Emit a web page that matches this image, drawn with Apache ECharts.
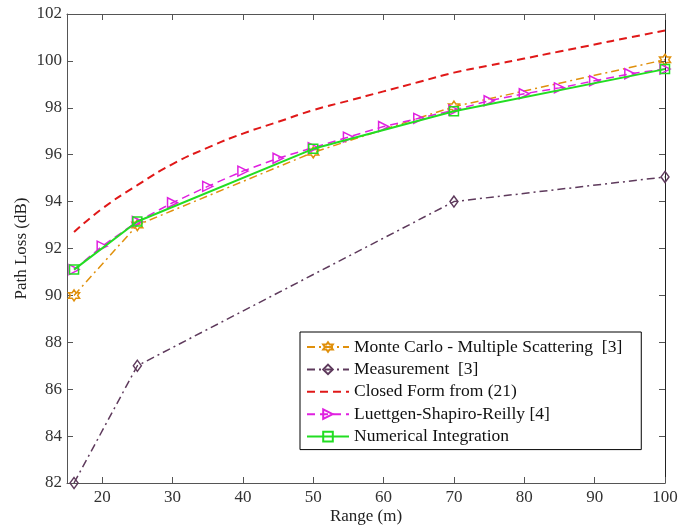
<!DOCTYPE html>
<html>
<head>
<meta charset="utf-8">
<style>
  html, body { margin: 0; padding: 0; background: #fff; }
  #main { width: 680px; height: 527px; }
</style>
<script src="https://cdn.jsdelivr.net/npm/echarts@6/dist/echarts.min.js"></script>
</head>
<body>
<div id="main"></div>
<script>
// data
var xTicks = [20, 30, 40, 50, 60, 70, 80, 90, 100];

var mcRange = [16, 25, 50, 70, 100];
var mcLoss  = [90.0, 93.0, 96.1, 98.05, 100.05];

var measRange = [16, 25, 70, 100];
var measLoss  = [82.0, 87.0, 94.0, 95.05];

var cfRange = [16, 20, 25, 30, 35, 40, 45, 50, 55, 60, 65, 70, 75, 80, 85, 90, 95, 100];
var cfLoss  = [92.7, 93.7, 94.7, 95.6, 96.3, 96.9, 97.4, 97.9, 98.3, 98.7, 99.1, 99.5, 99.8, 100.1, 100.4, 100.7, 101.0, 101.3];

var lsrRange = [16, 20, 25, 30, 35, 40, 45, 50, 55, 60, 65, 70, 75, 80, 85, 90, 95, 100];
var lsrLoss  = [91.1, 92.1, 93.15, 93.95, 94.65, 95.3, 95.85, 96.3, 96.75, 97.2, 97.55, 97.9, 98.3, 98.6, 98.85, 99.15, 99.45, 99.65];

var niRange = [16, 25, 50, 70, 100];
var niLoss  = [91.1, 93.15, 96.25, 97.85, 99.65];

function pairs(xs, ys) {
    return xs.map(function (x, i) { return [x, ys[i]]; });
}

var hexagram = 'path://M0,-100L28.9,-50L86.6,-50L57.7,0L86.6,50L28.9,50L0,100L-28.9,50L-86.6,50L-57.7,0L-86.6,-50L-28.9,-50Z';
var font = '"Liberation Serif", "Times New Roman", serif';

var myChart = echarts.init(document.getElementById('main'));

function markerStyle(c) {
    return { color: 'rgba(255,255,255,0)', borderColor: c, borderWidth: 1.5 };
}

var option = {
    animation: false,
    backgroundColor: '#fff',
    textStyle: { fontFamily: font },
    grid: { left: 67, right: 15, top: 14, bottom: 44, outerBoundsMode: 'none', containLabel: false },
    legend: {
        orient: 'vertical',
        left: 300,
        top: 332,
        backgroundColor: '#fff',
        borderColor: '#000',
        borderWidth: 1,
        padding: [6, 19, 4, 6],
        itemWidth: 42,
        itemHeight: 12,
        itemGap: 4.4,
        textStyle: { fontFamily: font, fontSize: 17.5, color: '#111', lineHeight: 17 },
        data: [
            'Monte Carlo - Multiple Scattering  [3]',
            'Measurement  [3]',
            { name: 'Closed Form from (21)', itemStyle: { opacity: 0 } },
            'Luettgen-Shapiro-Reilly [4]',
            'Numerical Integration'
        ]
    },
    xAxis: [
        {
            type: 'value', min: 15, max: 100,
            name: 'Range (m)', nameLocation: 'middle', nameGap: 25, nameMoveOverlap: false,
            nameTextStyle: { fontFamily: font, fontSize: 17, color: '#222', verticalAlign: 'top' },
            axisLine: { lineStyle: { color: '#555', width: 1 } },
            axisTick: { inside: true, length: 6, customValues: xTicks, lineStyle: { color: '#555' } },
            axisLabel: { customValues: xTicks, fontFamily: font, fontSize: 17, color: '#333', margin: 6 },
            splitLine: { show: false }
        },
        {
            type: 'value', min: 15, max: 100, position: 'top',
            axisLine: { onZero: false, lineStyle: { color: '#555', width: 1 } },
            axisTick: { inside: true, length: 6, customValues: xTicks, lineStyle: { color: '#555' } },
            axisLabel: { show: false },
            splitLine: { show: false }
        }
    ],
    yAxis: [
        {
            type: 'value', min: 82, max: 102, interval: 2,
            name: 'Path Loss (dB)', nameLocation: 'middle', nameGap: 37, nameMoveOverlap: false,
            nameTextStyle: { fontFamily: font, fontSize: 17, color: '#222' },
            axisLine: { show: true, lineStyle: { color: '#555', width: 1 } },
            axisTick: { show: true, inside: true, length: 6, lineStyle: { color: '#555' } },
            axisLabel: { fontFamily: font, fontSize: 17, color: '#333', margin: 5 },
            splitLine: { show: false }
        },
        {
            type: 'value', min: 82, max: 102, interval: 2, position: 'right',
            axisLine: { show: true, onZero: false, lineStyle: { color: '#222', width: 1 } },
            axisTick: { show: true, inside: true, length: 6, lineStyle: { color: '#555' } },
            axisLabel: { show: false },
            splitLine: { show: false }
        }
    ],
    series: [
        {
            name: 'Monte Carlo - Multiple Scattering  [3]',
            type: 'line',
            data: pairs(mcRange, mcLoss),
            symbol: hexagram, symbolSize: 11,
            itemStyle: markerStyle('#e0900c'),
            lineStyle: { color: '#e0900c', width: 1.5, type: [8, 4, 2, 4] },
            z: 2
        },
        {
            name: 'Measurement  [3]',
            type: 'line',
            data: pairs(measRange, measLoss),
            symbol: 'diamond', symbolSize: [8, 11],
            itemStyle: markerStyle('#5e3a5c'),
            lineStyle: { color: '#5e3a5c', width: 1.5, type: [8, 4, 2, 4] },
            z: 2
        },
        {
            name: 'Closed Form from (21)',
            type: 'line',
            data: pairs(cfRange, cfLoss),
            smooth: true,
            symbol: 'none',
            itemStyle: { color: '#e01818' },
            lineStyle: { color: '#e01818', width: 2, type: [8, 5] },
            z: 3
        },
        {
            name: 'Luettgen-Shapiro-Reilly [4]',
            type: 'line',
            data: pairs(lsrRange, lsrLoss),
            symbol: 'triangle', symbolSize: 10, symbolRotate: -90,
            itemStyle: markerStyle('#e020e0'),
            lineStyle: { color: '#e020e0', width: 1.5, type: [8, 5] },
            z: 4
        },
        {
            name: 'Numerical Integration',
            type: 'line',
            data: pairs(niRange, niLoss),
            symbol: 'rect', symbolSize: 9,
            itemStyle: markerStyle('#22dd22'),
            lineStyle: { color: '#22dd22', width: 2 },
            z: 5
        }
    ]
};

myChart.setOption(option);
</script>
</body>
</html>
